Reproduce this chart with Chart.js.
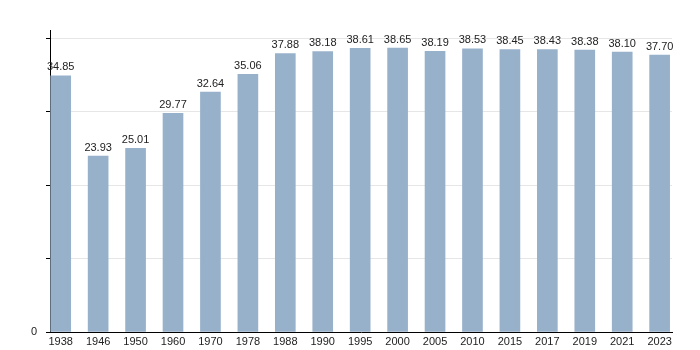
<!DOCTYPE html>
<html><head><meta charset="utf-8">
<script src="https://cdn.jsdelivr.net/npm/chart.js@4"></script>
<style>html,body{margin:0;padding:0;background:#fff}#w{width:700px;height:350px}</style>
</head><body><div id="w"><canvas id="c"></canvas></div>
<script>
const years = ['1938','1946','1950','1960','1970','1978','1988','1990','1995','2000','2005','2010','2015','2017','2019','2021','2023'];
const values = [34.85,23.93,25.01,29.77,32.64,35.06,37.88,38.18,38.61,38.65,38.19,38.53,38.45,38.43,38.38,38.10,37.70];
const yTicks = [0,10,20,30,40];

const points = values.map((v,i)=>({x:i,y:v}));
const FONT = '"Liberation Sans", Arial, sans-serif';

const valueLabels = {
  id:'valueLabels',
  afterDatasetsDraw(chart){
    const ctx = chart.ctx, meta = chart.getDatasetMeta(0);
    ctx.save();
    ctx.font = '11px ' + FONT;
    ctx.fillStyle = '#222';
    ctx.textAlign = 'center';
    ctx.textBaseline = 'bottom';
    meta.data.forEach((bar,i)=>{
      ctx.fillText(values[i].toFixed(2), bar.x, bar.y - 3);
    });
    ctx.restore();
  }
};

new Chart(document.getElementById('c'), {
  type:'bar',
  data:{datasets:[{data:points, backgroundColor:'#98b1cb', borderWidth:0, barThickness:20}]},
  options:{
    responsive:true, maintainAspectRatio:false, animation:false,
    layout:{padding:{left:0,right:28,top:30,bottom:0}},
    plugins:{legend:{display:false}, tooltip:{enabled:false}},
    scales:{
      x:{
        type:'linear', offset:false, min:-0.286, max:16.33,
        grid:{display:false, offset:false, drawTicks:false},
        border:{display:true, color:'#000', width:1},
        afterFit(s){ s.height = 18; },
        ticks:{
          stepSize:1, includeBounds:false, autoSkip:false, maxRotation:0, padding:3,
          color:'#222', font:{size:11, family:FONT},
          callback(v){ return Number.isInteger(v) && years[v] !== undefined ? years[v] : ''; }
        }
      },
      y:{
        min:0, max:41.1,
        afterBuildTicks(s){ s.ticks = yTicks.map(v=>({value:v})).concat([{value:41.1}]); },
        afterFit(s){ s.width = 50; },
        grid:{
          color(c){ return (c.tick && c.tick.value > 0 && c.tick.value <= 40) ? '#e6e6e6' : 'rgba(0,0,0,0)'; },
          tickColor(c){ return (c.tick && c.tick.value <= 40) ? '#000' : 'rgba(0,0,0,0)'; },
          tickLength:4
        },
        border:{display:true, color:'#000', width:1},
        ticks:{
          padding:9, color:'#222', font:{size:11, family:FONT},
          callback(v){ return v === 0 ? '0' : ''; }
        }
      }
    }
  },
  plugins:[valueLabels]
});
</script></body></html>
